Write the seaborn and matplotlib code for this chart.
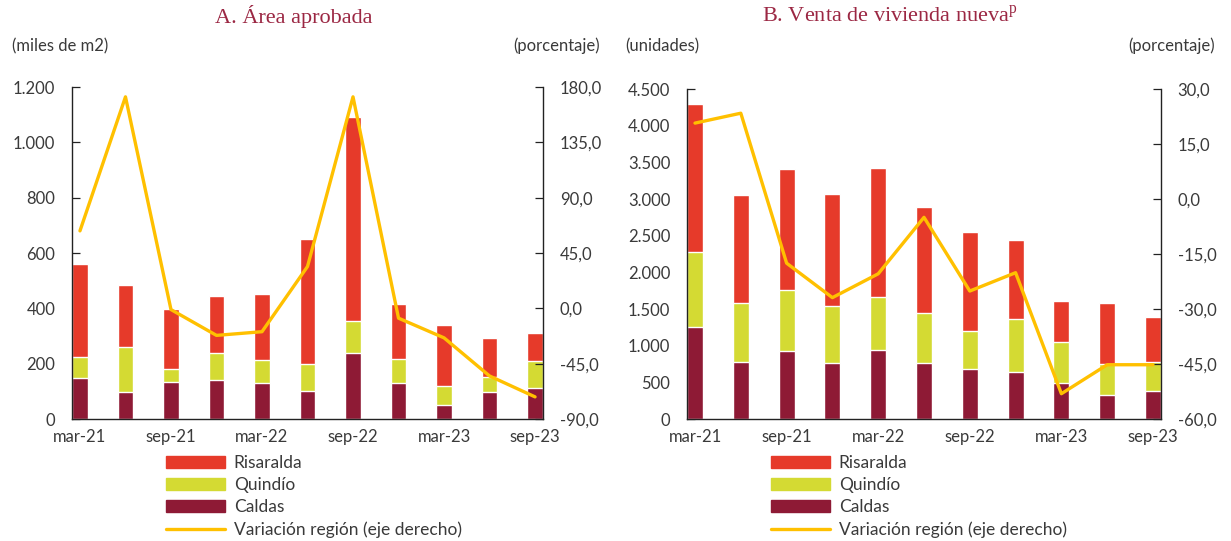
import numpy as np
import pandas as pd
import matplotlib
matplotlib.use("Agg")
import matplotlib.pyplot as plt
import seaborn as sns
from matplotlib.ticker import FuncFormatter, MultipleLocator
from matplotlib.patches import Patch
from matplotlib.lines import Line2D

# trimestres
periodos = ["mar-21", "jun-21", "sep-21", "dic-21", "mar-22", "jun-22",
            "sep-22", "dic-22", "mar-23", "jun-23", "sep-23"]

# A. Area aprobada (miles de m2)
area_caldas = [148, 98, 135, 140, 130, 103, 238, 130, 52, 98, 112]
area_quindio = [75, 161, 47, 98, 83, 96, 115, 88, 69, 53, 98]
area_risaralda = [339, 225, 217, 208, 238, 451, 739, 196, 218, 142, 101]
area_var = [63, 172, -1, -22, -19, 34, 172, -8, -24, -55, -72]

# B. Venta de vivienda nueva (unidades)
venta_caldas = [1252, 782, 922, 764, 940, 764, 678, 642, 488, 330, 380]
venta_quindio = [1025, 800, 836, 781, 727, 682, 524, 718, 556, 416, 402]
venta_risaralda = [2016, 1473, 1645, 1528, 1754, 1451, 1351, 1085, 569, 836, 605]
venta_var = [20.7, 23.4, -17.5, -26.9, -20.4, -5.0, -25.1, -20.1, -53.1, -45.2, -45.2]

c_ris = "#E63A2A"
c_qui = "#D4DA33"
c_cal = "#8E1A35"
c_lin = "#FFC000"
c_txt = "#3a3a3a"
c_tit = "#9B2743"

sns.set_theme(style="white")
plt.rcParams["font.family"] = ["Lato", "DejaVu Sans"]
plt.rcParams["mathtext.fontset"] = "custom"
plt.rcParams["mathtext.rm"] = "Liberation Serif"

miles = FuncFormatter(lambda v, p: f"{v:,.0f}".replace(",", "."))
pct = FuncFormatter(lambda v, p: f"{v:.1f}".replace(".", ","))

fig = plt.figure(figsize=(12.31, 5.41), dpi=100)
bw = 0.35


def panel(rect, cal, qui, ris, var, ylim, ystep, y2lim, y2step):
    ax = fig.add_axes(rect)
    df = pd.DataFrame({"periodo": periodos, "Caldas": cal, "Quindío": qui, "Risaralda": ris})
    df["tot"] = df["Caldas"] + df["Quindío"] + df["Risaralda"]
    df["cq"] = df["Caldas"] + df["Quindío"]
    sns.barplot(data=df, x="periodo", y="tot", color=c_ris, width=bw, saturation=1, ax=ax)
    sns.barplot(data=df, x="periodo", y="cq", color=c_qui, width=bw, saturation=1, ax=ax)
    sns.barplot(data=df, x="periodo", y="Caldas", color=c_cal, width=bw, saturation=1, ax=ax)
    ax.set_xlim(-bw / 2, len(periodos) - 1 + bw / 2)
    ax.set_ylim(*ylim)
    ax.yaxis.set_major_locator(MultipleLocator(ystep))
    ax.yaxis.set_major_formatter(miles)
    ax.set_xticks(range(0, len(periodos), 2))
    ax.set_xticklabels(periodos[::2])
    ax.set_xlabel("")
    ax.set_ylabel("")

    ax2 = ax.twinx()
    sns.lineplot(x=np.arange(len(periodos)), y=var, color=c_lin, linewidth=2.4, ax=ax2)
    ax2.set_ylim(*y2lim)
    ax2.yaxis.set_major_locator(MultipleLocator(y2step))
    ax2.yaxis.set_major_formatter(pct)
    ax2.set_xlim(ax.get_xlim())

    for a in (ax, ax2):
        a.spines["top"].set_visible(False)
        for s in ("left", "right", "bottom"):
            a.spines[s].set_color("#222222")
            a.spines[s].set_linewidth(1.0)
    ax.spines["right"].set_visible(False)
    ax2.spines["left"].set_visible(False)
    ax2.spines["bottom"].set_visible(False)
    ax.tick_params(axis="y", direction="in", length=6, width=0.9, color="#222222",
                   pad=12, labelsize=12, labelcolor=c_txt, left=True)
    ax.tick_params(axis="x", direction="in", length=0, pad=7, labelsize=12, labelcolor=c_txt)
    ax2.tick_params(axis="y", direction="in", length=6, width=0.9, color="#222222",
                    pad=12, labelsize=12, labelcolor=c_txt, right=True)
    return ax


panel([72 / 1231, 1 - 419 / 541, 471 / 1231, 332 / 541],
      area_caldas, area_quindio, area_risaralda, area_var,
      (0, 1200), 200, (-90, 180), 45)
panel([687 / 1231, 1 - 419 / 541, 474 / 1231, 330 / 541],
      venta_caldas, venta_quindio, venta_risaralda, venta_var,
      (0, 4500), 500, (-60, 30), 15)

# titulos
fig.text(294 / 1231, 1 - 16 / 541, "A. Área aprobada", ha="center", va="center",
         fontsize=16, color=c_tit, family="Liberation Serif")
fig.text(890 / 1231, 1 - 16 / 541, r"B. Venta de vivienda nueva$^{\rm p}$", ha="center",
         va="center", fontsize=16, color=c_tit, family="Liberation Serif")

# unidades
for x, txt, ha in [(12, "(miles de m2)", "left"), (600, "(porcentaje)", "right"),
                   (625, "(unidades)", "left"), (1215, "(porcentaje)", "right")]:
    fig.text(x / 1231, 1 - 46 / 541, txt, ha=ha, va="center", fontsize=12, color=c_txt)

# leyendas
handles = [Patch(color=c_ris, label="Risaralda"),
           Patch(color=c_qui, label="Quindío"),
           Patch(color=c_cal, label="Caldas"),
           Line2D([], [], color=c_lin, lw=2.4, label="Variación región (eje derecho)")]
for x in (166, 771):
    fig.legend(handles=handles, loc="upper left", bbox_to_anchor=(x / 1231, 1 - 455 / 541),
               frameon=False, fontsize=12.5, handlelength=3.4, handleheight=0.7,
               handletextpad=0.5, labelspacing=0.35, borderpad=0, borderaxespad=0,
               labelcolor=c_txt)

fig.savefig("out.png", dpi=100)
